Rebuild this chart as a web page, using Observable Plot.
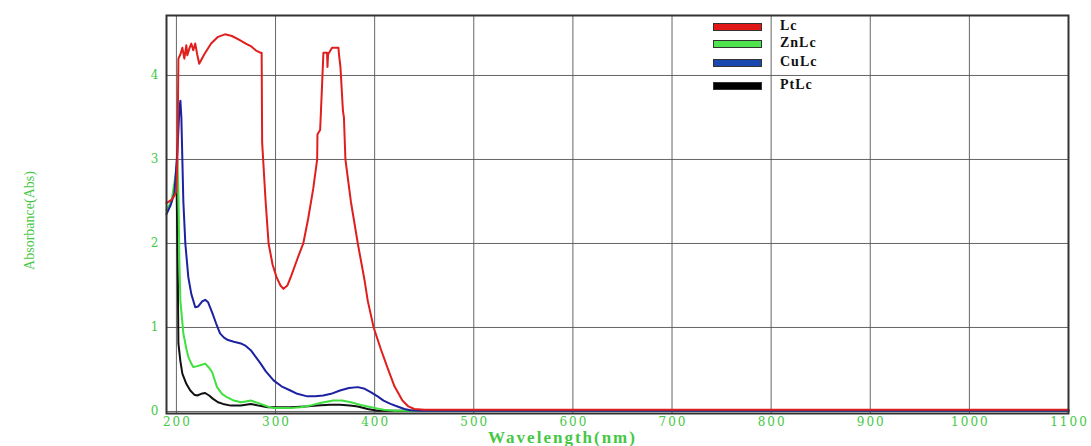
<!DOCTYPE html>
<html>
<head>
<meta charset="utf-8">
<script src="https://cdn.jsdelivr.net/npm/d3@7"></script>
<script src="https://cdn.jsdelivr.net/npm/@observablehq/plot@0.6"></script>
<style>
  html, body { margin: 0; padding: 0; background: #fff; }
  #wrap { position: relative; width: 1091px; height: 446px; }
  #wrap svg { position: absolute; left: 0; top: 0; }
  g[aria-label="x-axis tick label"] text { letter-spacing: 2px; font-family: "DejaVu Serif", serif; }
  g[aria-label="y-axis tick label"] text { letter-spacing: 1px; font-family: "DejaVu Serif", serif; }
  .legend { position: absolute; left: 0; top: 0; font-family: "Liberation Serif", serif; font-weight: bold; font-size: 14px; letter-spacing: 1px; color: #111; }
  .legend .item { position: absolute; left: 713px; height: 16px; width: 160px; }
  .legend .sw { position: absolute; left: 0; top: 4px; width: 47px; height: 6px; border: 1px solid #333; }
  .legend .lab { position: absolute; left: 67px; top: -1px; }
</style>
</head>
<body>
<div id="wrap"></div>
<script>
// ---- data ----
const seriesNames = ["Lc", "ZnLc", "CuLc", "PtLc"];
const seriesColors = ["#e01e1e", "#3fe03f", "#1c22a0", "#111111"];
const legendColors = ["#e01818", "#4ee44e", "#1848b0", "#000000"];
const xTicks = [200, 300, 400, 500, 600, 700, 800, 900, 1000, 1100];
const yTicks = [0, 1, 2, 3, 4];

// [wavelength nm, absorbance]
const lc = [
  [190, 2.48], [195, 2.52], [198, 2.57], [200, 2.62], [201, 3.0], [202, 4.2],
  [204, 4.25], [206, 4.33], [208, 4.2], [210, 4.36], [211, 4.24], [213, 4.32],
  [215, 4.38], [217, 4.3], [219, 4.38], [221, 4.25], [223, 4.14], [228, 4.25],
  [235, 4.38], [242, 4.46], [249, 4.49], [256, 4.47], [264, 4.42], [270, 4.38],
  [275, 4.35], [280, 4.3], [285, 4.27], [286, 4.27], [286.5, 3.2], [288, 2.9],
  [290, 2.5], [293, 2.0], [297, 1.75], [301, 1.6], [305, 1.5], [308, 1.46],
  [312, 1.5], [316, 1.62], [320, 1.75], [324, 1.88], [328, 2.0], [333, 2.3],
  [338, 2.65], [342, 3.0], [342.3, 3.3], [345, 3.35], [347, 3.9], [348.3, 4.27],
  [352, 4.27], [352.4, 4.1], [353, 4.25], [357, 4.33], [363.5, 4.33], [364, 4.25],
  [365.5, 4.1], [368, 3.58], [369, 3.5], [370.5, 3.0], [376, 2.5], [383, 2.0],
  [390, 1.55], [393, 1.32], [399, 1.0], [406, 0.75], [413, 0.52], [420, 0.3],
  [428, 0.13], [434, 0.06], [440, 0.03], [450, 0.02], [1100, 0.02]
];
const znlc = [
  [190, 2.4], [195, 2.5], [199, 2.8], [201, 3.0], [202, 2.6], [203, 1.8],
  [204, 1.32], [207, 0.93], [210, 0.75], [212, 0.65], [215, 0.57], [217, 0.53],
  [221, 0.54], [224, 0.55], [229, 0.57], [233, 0.52], [236, 0.47], [239, 0.36],
  [241, 0.29], [246, 0.21], [251, 0.17], [258, 0.13], [265, 0.11], [270, 0.12],
  [275, 0.13], [280, 0.11], [285, 0.09], [292, 0.06], [298, 0.04], [305, 0.04],
  [315, 0.04], [325, 0.05], [335, 0.07], [345, 0.1], [358, 0.13], [367, 0.13],
  [376, 0.11], [385, 0.08], [393, 0.06], [401, 0.04], [409, 0.02], [420, 0.01],
  [1100, 0.01]
];
const culc = [
  [190, 2.35], [194, 2.45], [198, 2.6], [201, 3.1], [203, 3.6], [204, 3.7],
  [205, 3.5], [206, 3.0], [207, 2.5], [209, 2.0], [212, 1.6], [215, 1.4],
  [219, 1.24], [222, 1.25], [226, 1.31], [229, 1.33], [232, 1.3], [236, 1.18],
  [240, 1.05], [244, 0.93], [248, 0.88], [252, 0.85], [258, 0.83], [265, 0.81],
  [270, 0.78], [275, 0.73], [280, 0.65], [285, 0.57], [290, 0.48], [298, 0.37],
  [306, 0.3], [315, 0.25], [322, 0.21], [332, 0.18], [340, 0.18], [348, 0.19],
  [356, 0.21], [365, 0.25], [374, 0.28], [383, 0.29], [390, 0.27], [396, 0.23],
  [403, 0.18], [409, 0.13], [416, 0.09], [423, 0.06], [430, 0.03], [436, 0.015],
  [445, 0.01], [1100, 0.01]
];
const ptlc = [
  [200, 2.9], [201.5, 1.5], [202, 0.81], [204, 0.6], [206, 0.45], [210, 0.33],
  [214, 0.25], [218, 0.2], [221, 0.19], [225, 0.21], [229, 0.22], [233, 0.19],
  [237, 0.15], [242, 0.11], [247, 0.09], [255, 0.07], [265, 0.07], [275, 0.09],
  [283, 0.07], [292, 0.05], [305, 0.05], [315, 0.05], [330, 0.06], [342, 0.07],
  [355, 0.08], [365, 0.08], [375, 0.07], [383, 0.06], [393, 0.03], [403, 0.01],
  [1100, 0.01]
];

// ---- build table ----
const seriesData = { Lc: lc, ZnLc: znlc, CuLc: culc, PtLc: ptlc };
const drawOrder = ["PtLc", "ZnLc", "CuLc", "Lc"];
const rows = drawOrder.flatMap(name => seriesData[name].map(([nm, a]) => ({ name, nm, a })));

const green = "#44c844";
const font = "'Liberation Serif', 'Times New Roman', serif";
const fmt = d => String(d);

const chart = Plot.plot({
  width: 1091,
  height: 446,
  marginTop: 15,
  marginBottom: 33,
  marginLeft: 166,
  marginRight: 23,
  style: { fontFamily: font, background: "transparent" },
  x: { domain: [190, 1100] },
  y: { domain: [-0.024, 4.714] },
  color: { domain: seriesNames, range: seriesColors },
  marks: [
    Plot.gridX(xTicks, { stroke: "#555", strokeOpacity: 0.9, strokeWidth: 1 }),
    Plot.gridY(yTicks, { stroke: "#555", strokeOpacity: 0.9, strokeWidth: 1 }),
    Plot.axisX(xTicks, { tickSize: 0, tickPadding: 4, dx: 1, tickFormat: fmt, fill: green, fontSize: 12, label: null }),
    Plot.axisY(yTicks, { tickSize: 0, tickPadding: 7, tickFormat: fmt, fill: green, fontSize: 12, label: null }),
    Plot.line(rows, { x: "nm", y: "a", z: "name", stroke: "name", strokeWidth: 2, curve: "linear" }),
    Plot.frame({ stroke: "#333", strokeWidth: 2 }),
    Plot.text(["Wavelength(nm)"], { frameAnchor: "bottom", dx: -55, dy: 29, fill: green, fontSize: 17, fontWeight: "bold", text: d => d }),
    Plot.text(["Absorbance(Abs)"], { frameAnchor: "left", textAnchor: "middle", dx: -137, dy: 6, rotate: -90, fill: green, fontSize: 14, text: d => d })
  ]
});

const wrap = document.getElementById("wrap");
wrap.appendChild(chart);
// wide spacing of the x-axis title
d3.select(chart).selectAll('g[aria-label="text"] text')
  .filter(function () { return this.textContent === "Wavelength(nm)"; })
  .style("letter-spacing", "2px");

// legend (HTML overlay)
const legendTops = [19, 36, 55, 78];
const legend = d3.select(wrap).append("div").attr("class", "legend");
seriesNames.forEach((name, i) => {
  const it = legend.append("div").attr("class", "item").style("top", legendTops[i] + "px");
  it.append("div").attr("class", "sw").style("background", legendColors[i]);
  it.append("div").attr("class", "lab").text(name);
});
</script>
</body>
</html>
